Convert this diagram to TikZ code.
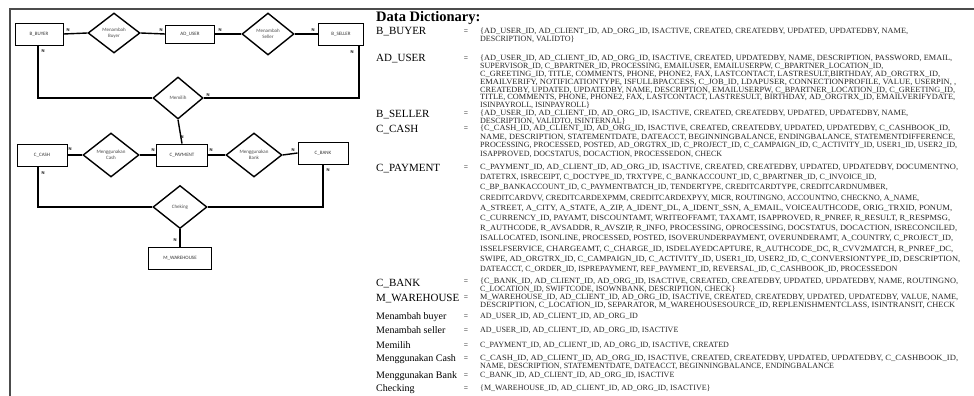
\documentclass[tikz,border=0pt]{standalone}
\usepackage{fontspec}
\usepackage{graphicx}
\setmainfont{Liberation Serif}
\newfontfamily\diagfont{Carlito}
\usetikzlibrary{shapes.geometric}
\newcommand\vals[1]{\begin{tabular}[t]{@{}l@{}}#1\end{tabular}}
\newcommand\fw[2]{\resizebox{\dimexpr #1pt-480pt\relax}{\height}{#2}}
\tikzset{
  ent/.style={draw, line width=0.9pt, inner sep=0pt, minimum height=22pt,
    font=\diagfont\fontsize{5}{6}\selectfont, text=black!80},
  rel/.style={draw, diamond, line width=1.4pt, inner sep=0pt, align=center,
    font=\diagfont\fontsize{5}{6}\selectfont, text=black!70},
  conn/.style={line width=1.4pt},
  nl/.style={inner sep=0pt, font=\diagfont\bfseries\fontsize{4.5}{5}\selectfont},
  frame/.style={line width=1.2pt, draw=black!70},
  dhead/.style={anchor=base west, inner sep=0pt, font=\bfseries\fontsize{14.5}{16}\selectfont},
  dname/.style={anchor=base west, inner sep=0pt, font=\fontsize{11}{13}\selectfont},
  dnamel/.style={anchor=base west, inner sep=0pt, font=\fontsize{10}{12}\selectfont},
  deq/.style={anchor=base, inner sep=0pt, font=\fontsize{7.5}{8}\selectfont},
  dval/.style={anchor=base west, inner sep=0pt, font=\fontsize{8}{8}\selectfont, text=black!85}
}
\begin{document}
\begin{tikzpicture}[x=1pt,y=-1pt]
\useasboundingbox (0,0) rectangle (974,396);
% frame
\coordinate (ftl) at (10,9);
\coordinate (ftr) at (974,9);
\coordinate (fbl) at (10,396);
\draw[frame] (fbl) -- (ftl) -- (ftr);

% ER diagram
\node[ent, minimum width=48pt] (bbuyer) at (39,34) {B\_BUYER};
\node[rel, minimum width=52pt, minimum height=40pt] (mbuyer) at (114,33) {Menambah\\Buyer};
\node[ent, minimum width=49pt, minimum height=18pt] (aduser) at (190,34) {AD\_USER};
\node[rel, minimum width=52pt, minimum height=42pt] (mseller) at (268,34) {Menambah\\Seller};
\node[ent, minimum width=45pt] (bseller) at (341,34) {B\_SELLER};
\node[rel, minimum width=50pt, minimum height=42pt] (memilih) at (178,98) {Memilih};
\node[ent, minimum width=50pt] (ccash) at (42,155) {C\_CASH};
\node[rel, minimum width=56pt, minimum height=44pt] (mcash) at (111,155) {Menggunakan\\Cash};
\node[ent, minimum width=51pt] (cpayment) at (182,155) {C\_PAYMENT};
\node[rel, minimum width=56pt, minimum height=44pt] (mbank) at (254,155) {Menggunakan\\Bank};
\node[ent, minimum width=50pt] (cbank) at (323,153) {C\_BANK};
\node[rel, minimum width=54pt, minimum height=43pt] (checking) at (180,207) {Cheking};
\node[ent, minimum width=63pt] (mwarehouse) at (180,258) {M\_WAREHOUSE};

\coordinate (bbd) at (38,45);
\coordinate (bsd) at (359,45);
\coordinate (ccd) at (38,166);

\draw[conn] (bbuyer.east) -- (mbuyer.west);
\draw[conn] (mbuyer.east) -- (aduser.west);
\draw[conn] (aduser.east) -- (mseller.west);
\draw[conn] (mseller.east) -- (bseller.west);
\draw[conn] (bbd) |- (memilih.west);
\draw[conn] (memilih.east) -| (bsd);
\draw[conn] (memilih.south) -- (cpayment.north);
\draw[conn] (ccash.east) -- (mcash.west);
\draw[conn] (mcash.east) -- (cpayment.west);
\draw[conn] (cpayment.east) -- (mbank.west);
\draw[conn] (mbank.east) -- (cbank.west);
\draw[conn] (ccd) |- (checking.west);
\draw[conn] (cbank.south) |- (checking.east);
\draw[conn] (checking.south) -- (mwarehouse.north);

\node[nl] (n1) at (68,30) {N};
\node[nl] (n2) at (161,30) {N};
\node[nl] (n3) at (220,30) {N};
\node[nl] (n4) at (313,30) {N};
\node[nl] (n5) at (43,51) {N};
\node[nl] (n6) at (352,52) {N};
\node[nl] (n7) at (208,95) {N};
\node[nl] (n8) at (182,137) {N};
\node[nl] (n9) at (70,149) {N};
\node[nl] (n10) at (153,150) {N};
\node[nl] (n11) at (211,150) {N};
\node[nl] (n12) at (293,150) {N};
\node[nl] (n13) at (43,173) {N};
\node[nl] (n14) at (328,170) {N};
\node[nl] (n15) at (175,240) {N};

% Data dictionary
\node[dhead] (dd) at (376,22) {Data Dictionary:};

\node[dname] (k1) at (376,35) {B\_BUYER};
\node[deq] (e1) at (466,33.5) {=};
\node[dval, font=\fontsize{8}{8}\selectfont] (v1) at (480,33.5) {\vals{\fw{908}{\{AD\_USER\_ID, AD\_CLIENT\_ID, AD\_ORG\_ID, ISACTIVE, CREATED, CREATEDBY, UPDATED, UPDATEDBY, NAME,}\\
DESCRIPTION, VALIDTO\}}};

\node[dname] (k2) at (376,62) {AD\_USER};
\node[deq] (e2) at (466,60.5) {=};
\node[dval, font=\fontsize{8}{7.9}\selectfont] (v2) at (480,60.5) {\vals{\fw{952}{\{AD\_USER\_ID, AD\_CLIENT\_ID, AD\_ORG\_ID, ISACTIVE, CREATED, UPDATEDBY, NAME, DESCRIPTION, PASSWORD, EMAIL,}\\
SUPERVISOR\_ID, C\_BPARTNER\_ID, PROCESSING, EMAILUSER, EMAILUSERPW, C\_BPARTNER\_LOCATION\_ID,\\
\fw{940}{C\_GREETING\_ID, TITLE, COMMENTS, PHONE, PHONE2, FAX, LASTCONTACT, LASTRESULT,BIRTHDAY, AD\_ORGTRX\_ID,}\\
\fw{956}{EMAILVERIFY, NOTIFICATIONTYPE, ISFULLBPACCESS, C\_JOB\_ID, LDAPUSER, CONNECTIONPROFILE, VALUE, USERPIN, ,}\\
\fw{955}{CREATEDBY, UPDATED, UPDATEDBY, NAME, DESCRIPTION, EMAILUSERPW, C\_BPARTNER\_LOCATION\_ID, C\_GREETING\_ID,}\\
\fw{955}{TITLE, COMMENTS, PHONE, PHONE2, FAX, LASTCONTACT, LASTRESULT, BIRTHDAY, AD\_ORGTRX\_ID, EMAILVERIFYDATE,}\\
ISINPAYROLL, ISINPAYROLL\}}};

\node[dname] (k3) at (376,117) {B\_SELLER};
\node[deq] (e3) at (466,115.5) {=};
\node[dval, font=\fontsize{8}{7.8}\selectfont] (v3) at (480,115.5) {\vals{\fw{908}{\{AD\_USER\_ID, AD\_CLIENT\_ID, AD\_ORG\_ID, ISACTIVE, CREATED, CREATEDBY, UPDATED, UPDATEDBY, NAME,}\\
DESCRIPTION, VALIDTO, ISINTERNAL\}}};

\node[dname] (k4) at (376,132) {C\_CASH};
\node[deq] (e4) at (466,130.5) {=};
\node[dval, font=\fontsize{8}{8.5}\selectfont] (v4) at (480,130.5) {\vals{\fw{950}{\{C\_CASH\_ID, AD\_CLIENT\_ID, AD\_ORG\_ID, ISACTIVE, CREATED, CREATEDBY, UPDATED, UPDATEDBY, C\_CASHBOOK\_ID,}\\
\fw{955}{NAME, DESCRIPTION, STATEMENTDATE, DATEACCT, BEGINNINGBALANCE, ENDINGBALANCE, STATEMENTDIFFERENCE,}\\
\fw{957}{PROCESSING, PROCESSED, POSTED, AD\_ORGTRX\_ID, C\_PROJECT\_ID, C\_CAMPAIGN\_ID, C\_ACTIVITY\_ID, USER1\_ID, USER2\_ID,}\\
ISAPPROVED, DOCSTATUS, DOCACTION, PROCESSEDON, CHECK}};

\node[dname] (k5) at (376,171) {C\_PAYMENT};
\node[deq] (e5) at (466,169.5) {=};
\node[dval, font=\fontsize{8}{10.2}\selectfont] (v5) at (480,169.5) {\vals{\fw{958}{C\_PAYMENT\_ID, AD\_CLIENT\_ID, AD\_ORG\_ID, ISACTIVE, CREATED, CREATEDBY, UPDATED, UPDATEDBY, DOCUMENTNO,}\\
DATETRX, ISRECEIPT, C\_DOCTYPE\_ID, TRXTYPE, C\_BANKACCOUNT\_ID, C\_BPARTNER\_ID, C\_INVOICE\_ID,\\
C\_BP\_BANKACCOUNT\_ID, C\_PAYMENTBATCH\_ID, TENDERTYPE, CREDITCARDTYPE, CREDITCARDNUMBER,\\
CREDITCARDVV, CREDITCARDEXPMM, CREDITCARDEXPYY, MICR, ROUTINGNO, ACCOUNTNO, CHECKNO, A\_NAME,\\
\fw{952}{A\_STREET, A\_CITY, A\_STATE, A\_ZIP, A\_IDENT\_DL, A\_IDENT\_SSN, A\_EMAIL, VOICEAUTHCODE, ORIG\_TRXID, PONUM,}\\
\fw{950}{C\_CURRENCY\_ID, PAYAMT, DISCOUNTAMT, WRITEOFFAMT, TAXAMT, ISAPPROVED, R\_PNREF, R\_RESULT, R\_RESPMSG,}\\
\fw{957}{R\_AUTHCODE, R\_AVSADDR, R\_AVSZIP, R\_INFO, PROCESSING, OPROCESSING, DOCSTATUS, DOCACTION, ISRECONCILED,}\\
\fw{953}{ISALLOCATED, ISONLINE, PROCESSED, POSTED, ISOVERUNDERPAYMENT, OVERUNDERAMT, A\_COUNTRY, C\_PROJECT\_ID,}\\
\fw{953}{ISSELFSERVICE, CHARGEAMT, C\_CHARGE\_ID, ISDELAYEDCAPTURE, R\_AUTHCODE\_DC, R\_CVV2MATCH, R\_PNREF\_DC,}\\
\fw{960}{SWIPE, AD\_ORGTRX\_ID, C\_CAMPAIGN\_ID, C\_ACTIVITY\_ID, USER1\_ID, USER2\_ID, C\_CONVERSIONTYPE\_ID, DESCRIPTION,}\\
DATEACCT, C\_ORDER\_ID, ISPREPAYMENT, REF\_PAYMENT\_ID, REVERSAL\_ID, C\_CASHBOOK\_ID, PROCESSEDON}};

\node[dname] (k6) at (376,286) {C\_BANK};
\node[deq] (e6) at (466,283.5) {=};
\node[dval, font=\fontsize{8}{7.8}\selectfont] (v6) at (480,283.5) {\vals{\fw{958}{\{C\_BANK\_ID, AD\_CLIENT\_ID, AD\_ORG\_ID, ISACTIVE, CREATED, CREATEDBY, UPDATED, UPDATEDBY, NAME, ROUTINGNO,}\\
C\_LOCATION\_ID, SWIFTCODE, ISOWNBANK, DESCRIPTION, CHECK\}}};

\node[dname] (k7) at (376,301) {M\_WAREHOUSE};
\node[deq] (e7) at (466,299.5) {=};
\node[dval, font=\fontsize{8}{7.8}\selectfont] (v7) at (480,299.5) {\vals{\fw{958}{M\_WAREHOUSE\_ID, AD\_CLIENT\_ID, AD\_ORG\_ID, ISACTIVE, CREATED, CREATEDBY, UPDATED, UPDATEDBY, VALUE, NAME,}\\
\fw{955}{DESCRIPTION, C\_LOCATION\_ID, SEPARATOR, M\_WAREHOUSESOURCE\_ID, REPLENISHMENTCLASS, ISINTRANSIT, CHECK}}};

\node[dnamel] (k8) at (376,319.5) {Menambah buyer};
\node[deq] (e8) at (466,318.5) {=};
\node[dval] (v8) at (480,318.5) {AD\_USER\_ID, AD\_CLIENT\_ID, AD\_ORG\_ID};

\node[dnamel] (k9) at (376,333.5) {Menambah seller};
\node[deq] (e9) at (466,332.5) {=};
\node[dval] (v9) at (480,332.5) {AD\_USER\_ID, AD\_CLIENT\_ID, AD\_ORG\_ID, ISACTIVE};

\node[dnamel] (k10) at (376,348.5) {Memilih};
\node[deq] (e10) at (466,347.5) {=};
\node[dval] (v10) at (480,347.5) {C\_PAYMENT\_ID, AD\_CLIENT\_ID, AD\_ORG\_ID, ISACTIVE, CREATED};

\node[dnamel] (k11) at (376,361.5) {Menggunakan Cash};
\node[deq] (e11) at (466,360.5) {=};
\node[dval, font=\fontsize{8}{7.8}\selectfont] (v11) at (480,360.5) {\vals{\fw{958}{C\_CASH\_ID, AD\_CLIENT\_ID, AD\_ORG\_ID, ISACTIVE, CREATED, CREATEDBY, UPDATED, UPDATEDBY, C\_CASHBOOK\_ID,}\\
NAME, DESCRIPTION, STATEMENTDATE, DATEACCT, BEGINNINGBALANCE, ENDINGBALANCE}};

\node[dnamel] (k12) at (376,378.5) {Menggunakan Bank};
\node[deq] (e12) at (466,377.5) {=};
\node[dval] (v12) at (480,377.5) {C\_BANK\_ID, AD\_CLIENT\_ID, AD\_ORG\_ID, ISACTIVE};

\node[dnamel] (k13) at (376,391.5) {Checking};
\node[deq] (e13) at (466,390.5) {=};
\node[dval] (v13) at (480,390.5) {\{M\_WAREHOUSE\_ID, AD\_CLIENT\_ID, AD\_ORG\_ID, ISACTIVE\}};
\end{tikzpicture}
\end{document}
